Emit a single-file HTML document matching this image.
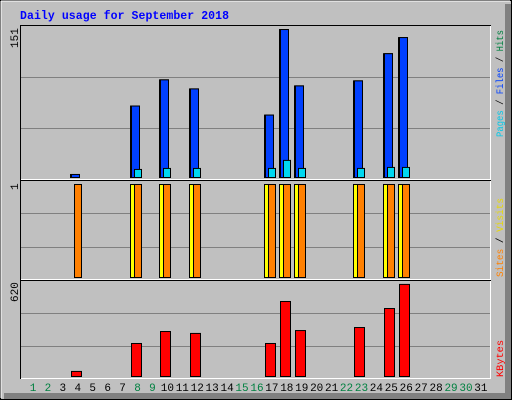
<!DOCTYPE html>
<html><head><meta charset="utf-8"><style>
body{margin:0;background:#c0c0c0}
svg{display:block}
text{font-family:"Liberation Mono","DejaVu Sans Mono",monospace}
</style></head><body>
<svg id="c" width="512" height="400" xmlns="http://www.w3.org/2000/svg">
<rect x="0" y="0" width="512" height="400" fill="#c0c0c0"/>
<rect x="0.5" y="0.5" width="511" height="399" fill="none" stroke="#000"/>
<path d="M1 1H510M1 1V398" stroke="#fff" fill="none"/>
<rect x="505" y="4" width="6" height="395" fill="#808080"/>
<rect x="4" y="393" width="507" height="6" fill="#808080"/>
<text x="20" y="19" font-size="11.5" font-weight="bold" fill="#0000ff" textLength="209">Daily usage for September 2018</text>
<g id="panels"></g>
<g id="marks"></g>
<text transform="translate(18,48) rotate(-90)" font-size="11" fill="#000">151</text>
<text transform="translate(18,190) rotate(-90)" font-size="11" fill="#000">1</text>
<text transform="translate(18,302) rotate(-90)" font-size="11" fill="#000">620</text>
<text transform="translate(503,137) rotate(-90)" font-size="10" textLength="107" lengthAdjust="spacingAndGlyphs"><tspan fill="#00c8e8">Pages</tspan><tspan fill="#000"> / </tspan><tspan fill="#0040ff">Files</tspan><tspan fill="#000"> / </tspan><tspan fill="#008040">Hits</tspan></text>
<text transform="translate(503,277) rotate(-90)" font-size="10" textLength="79" lengthAdjust="spacingAndGlyphs"><tspan fill="#ff8000">Sites</tspan><tspan fill="#000"> / </tspan><tspan fill="#e8d800">Visits</tspan></text>
<text transform="translate(503,377) rotate(-90)" font-size="10" textLength="37" lengthAdjust="spacingAndGlyphs" fill="#ff0000">KBytes</text>
<g id="labels"></g>
</svg>
<script>
const days=[1,2,3,4,5,6,7,8,9,10,11,12,13,14,15,16,17,18,19,20,21,22,23,24,25,26,27,28,29,30,31];
const weekend=[1,2,8,9,15,16,22,23,29,30];
const hits  =[0,0,0,3,0,0,0,71,0,97,0,88,0,0,0,0,62,147,91,0,0,0,96,0,123,139,0,0,0,0,0];
const files =[0,0,0,3,0,0,0,71,0,97,0,88,0,0,0,0,62,147,91,0,0,0,96,0,123,139,0,0,0,0,0];
const pages =[0,0,0,0,0,0,0,8,0,9,0,9,0,0,0,0,9,17,9,0,0,0,9,0,10,10,0,0,0,0,0];
const visits=[0,0,0,0,0,0,0,1,0,1,0,1,0,0,0,0,1,1,1,0,0,0,1,0,1,1,0,0,0,0,0];
const sites =[0,0,0,1,0,0,0,1,0,1,0,1,0,0,0,0,1,1,1,0,0,0,1,0,1,1,0,0,0,0,0];
const kbytes=[0,0,0,38,0,0,0,213,0,288,0,276,0,0,0,0,213,476,294,0,0,0,313,0,432,583,0,0,0,0,0];
const maxHits=151,maxVisits=1,maxKB=620;
const NS="http://www.w3.org/2000/svg";
const P=document.getElementById('panels'),M=document.getElementById('marks'),L=document.getElementById('labels');
function mk(tag,at,parent){const e=document.createElementNS(NS,tag);for(const k in at)e.setAttribute(k,at[k]);parent.appendChild(e);return e;}
const xc=d=>33+(d-1)*14.93;
const yH=v=>177-v/maxHits*152;
const yV=v=>277-v/maxVisits*93;
const yK=v=>377-v/maxKB*99;
const pan=[[25,180,'panel-hits'],[180,280,'panel-visits'],[280,379,'panel-kbytes']];
pan.forEach(p=>{
  const r=mk('rect',{x:20.5,y:p[0]+0.5,width:470,height:p[1]-p[0],fill:'#c0c0c0',stroke:'none'},P);
  
  
  const h=p[1]-p[0];
  [1,2].forEach(i=>{
    const g=mk('line',{x1:21,x2:490,y1:Math.round(p[0]+h*i/3)+0.5,y2:Math.round(p[0]+h*i/3)+0.5,stroke:'#808080'},P);
    
    
  });
  const b=mk('path',{d:`M20.5 ${p[1]}V${p[0]+0.5}H491`,stroke:'#000',fill:'none'},P);
  
  
  const w=mk('path',{d:`M21 ${p[1]-0.5}H490.5V${p[0]+1}`,stroke:'#fff',fill:'none'},P);
  
  
});
function bar(x,y0,y1,w,fill,name){
  if(y1-y0<1)return;
  const r=mk('rect',{x:x+0.5,y:y0+0.5,width:w,height:y1-y0,fill:fill,stroke:'#000'},M);
  
  
}
days.forEach((d,i)=>{
  const c=Math.round(xc(d));
  if(hits[i]>0)bar(c-8,yH(hits[i]),177,9,'#008040','bar-hits-'+d);
  if(files[i]>0)bar(c-7,yH(files[i]),177,8,'#0040ff','bar-files-'+d);
  if(pages[i]>0)bar(c-4,yH(pages[i]),177,7,'#00d8f0','bar-pages-'+d);
  if(visits[i]>0)bar(c-8,yV(visits[i]),277,8,'#ffff00','bar-visits-'+d);
  if(sites[i]>0)bar(c-4,yV(sites[i]),277,7,'#ff8000','bar-sites-'+d);
  if(kbytes[i]>0)bar(c-7,yK(kbytes[i]),376,10,'#ff0000','bar-kbytes-'+d);
  const t=mk('text',{x:xc(d),y:391,'font-size':'11','text-anchor':'middle',fill:weekend.includes(d)?'#008040':'#000'},L);
  t.textContent=d;
  
  
});
</script>
</body></html>
